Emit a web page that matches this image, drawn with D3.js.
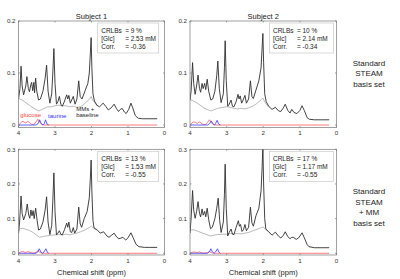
<!DOCTYPE html>
<html>
<head>
<meta charset="utf-8">
<script src="https://cdn.jsdelivr.net/npm/d3@7"></script>
<style>
  html, body { margin: 0; padding: 0; background: #fff; }
  svg { display: block; font-family: "Liberation Sans", Arial, sans-serif; }
</style>
</head>
<body>
<svg id="chart" width="400" height="279"></svg>
<script>
// ppm ticks, y ticks
const xTicks = [4, 3, 2, 1, 0];
const yTicksTop = [0, 0.1, 0.2];
const yTicksBottom = [0, 0.1, 0.2, 0.3];
const subjects = ["Subject 1", "Subject 2"];
const rowLabels = [["Standard", "STEAM", "basis set"], ["Standard", "STEAM", "+ MM", "basis set"]];

// [ppm, amplitude]
const spec1 = [[4.00,0.050],[3.96,0.070],[3.93,0.113],[3.90,0.075],[3.86,0.058],[3.80,0.075],[3.77,0.093],[3.73,0.070],[3.70,0.064],[3.66,0.078],[3.64,0.082],[3.61,0.066],[3.58,0.082],[3.56,0.062],[3.53,0.090],[3.50,0.065],[3.45,0.048],[3.40,0.050],[3.33,0.065],[3.27,0.090],[3.23,0.115],[3.19,0.065],[3.14,0.042],[3.09,0.060],[3.06,0.100],[3.03,0.147],[3.00,0.080],[2.96,0.040],[2.92,0.045],[2.88,0.055],[2.84,0.040],[2.80,0.036],[2.75,0.044],[2.68,0.058],[2.65,0.050],[2.62,0.057],[2.58,0.042],[2.50,0.055],[2.45,0.040],[2.40,0.050],[2.35,0.085],[2.31,0.055],[2.26,0.050],[2.17,0.067],[2.10,0.080],[2.06,0.100],[2.03,0.140],[2.01,0.168],[1.99,0.110],[1.96,0.060],[1.92,0.046],[1.85,0.038],[1.78,0.035],[1.68,0.042],[1.60,0.035],[1.54,0.029],[1.46,0.033],[1.38,0.040],[1.32,0.032],[1.26,0.026],[1.21,0.030],[1.16,0.032],[1.10,0.025],[1.05,0.022],[0.98,0.030],[0.92,0.042],[0.87,0.033],[0.80,0.018],[0.72,0.013],[0.60,0.012],[0.40,0.012],[0.20,0.012]];
const base1 = [[4.00,0.051],[3.90,0.048],[3.80,0.043],[3.70,0.038],[3.60,0.033],[3.50,0.029],[3.45,0.027],[3.38,0.029],[3.30,0.032],[3.20,0.035],[3.10,0.035],[3.00,0.037],[2.90,0.038],[2.80,0.037],[2.70,0.037],[2.60,0.035],[2.50,0.036],[2.40,0.034],[2.30,0.035],[2.20,0.040],[2.12,0.046],[2.05,0.050],[2.01,0.055],[1.97,0.048],[1.92,0.044],[1.85,0.037]];
const glc1 = [[4.00,0.000],[3.95,0.003],[3.90,0.007],[3.85,0.006],[3.80,0.004],[3.75,0.007],[3.70,0.005],[3.64,0.001],[3.58,0.001],[3.52,0.006],[3.47,0.011],[3.42,0.006],[3.37,0.001],[3.32,0.000],[0.20,0.000]];
const tau1 = [[4.00,0.000],[3.52,0.000],[3.46,0.003],[3.42,0.010],[3.38,0.003],[3.33,0.000],[3.29,0.003],[3.26,0.010],[3.22,0.002],[3.17,0.000]];

const spec2 = [[4.00,0.048],[3.97,0.065],[3.93,0.120],[3.90,0.080],[3.86,0.059],[3.82,0.075],[3.78,0.096],[3.74,0.070],[3.71,0.063],[3.67,0.080],[3.64,0.070],[3.60,0.080],[3.57,0.068],[3.53,0.088],[3.49,0.065],[3.43,0.048],[3.38,0.050],[3.32,0.065],[3.27,0.095],[3.24,0.123],[3.20,0.070],[3.15,0.043],[3.09,0.060],[3.06,0.110],[3.04,0.162],[3.01,0.085],[2.97,0.036],[2.93,0.040],[2.88,0.048],[2.84,0.036],[2.80,0.035],[2.74,0.045],[2.69,0.059],[2.66,0.050],[2.63,0.056],[2.59,0.042],[2.55,0.048],[2.50,0.057],[2.46,0.042],[2.40,0.050],[2.35,0.085],[2.31,0.055],[2.27,0.051],[2.20,0.067],[2.12,0.085],[2.06,0.110],[2.03,0.150],[2.01,0.176],[1.99,0.120],[1.96,0.060],[1.92,0.045],[1.85,0.036],[1.76,0.030],[1.67,0.034],[1.58,0.027],[1.52,0.026],[1.45,0.033],[1.40,0.040],[1.33,0.028],[1.27,0.023],[1.22,0.030],[1.16,0.024],[1.08,0.022],[1.00,0.028],[0.94,0.037],[0.88,0.028],[0.80,0.014],[0.74,0.011],[0.60,0.010],[0.40,0.010],[0.20,0.010]];
const base2 = [[4.00,0.049],[3.90,0.046],[3.80,0.042],[3.70,0.037],[3.60,0.032],[3.50,0.029],[3.42,0.027],[3.35,0.029],[3.25,0.032],[3.10,0.034],[3.00,0.035],[2.90,0.034],[2.80,0.032],[2.70,0.031],[2.60,0.032],[2.50,0.031],[2.40,0.033],[2.30,0.036],[2.20,0.040],[2.10,0.046],[2.05,0.049],[2.01,0.052],[1.97,0.046],[1.92,0.040],[1.85,0.034]];
const glc2 = [[4.00,0.000],[3.95,0.004],[3.90,0.006],[3.85,0.005],[3.80,0.003],[3.75,0.006],[3.70,0.004],[3.64,0.001],[3.57,0.001],[3.52,0.005],[3.47,0.010],[3.42,0.005],[3.37,0.001],[3.32,0.000],[0.20,0.000]];
const tau2 = [[4.00,0.000],[3.52,0.000],[3.46,0.003],[3.42,0.008],[3.38,0.003],[3.33,0.000],[3.30,0.003],[3.26,0.009],[3.22,0.002],[3.17,0.000]];

const spec3 = [[4.00,0.057],[3.97,0.090],[3.93,0.165],[3.90,0.115],[3.86,0.096],[3.80,0.115],[3.76,0.142],[3.72,0.110],[3.69,0.101],[3.66,0.125],[3.63,0.108],[3.60,0.123],[3.57,0.100],[3.53,0.130],[3.49,0.095],[3.45,0.067],[3.40,0.070],[3.33,0.090],[3.27,0.125],[3.23,0.163],[3.19,0.090],[3.14,0.054],[3.09,0.080],[3.06,0.150],[3.03,0.232],[3.00,0.120],[2.96,0.053],[2.92,0.058],[2.88,0.065],[2.84,0.055],[2.80,0.053],[2.74,0.068],[2.68,0.087],[2.65,0.075],[2.62,0.090],[2.58,0.062],[2.54,0.060],[2.50,0.074],[2.46,0.058],[2.40,0.070],[2.35,0.133],[2.31,0.085],[2.27,0.075],[2.20,0.100],[2.12,0.120],[2.06,0.160],[2.03,0.220],[2.01,0.269],[1.99,0.180],[1.96,0.095],[1.93,0.073],[1.85,0.068],[1.76,0.058],[1.67,0.062],[1.58,0.050],[1.52,0.046],[1.45,0.052],[1.38,0.058],[1.31,0.047],[1.25,0.042],[1.19,0.044],[1.14,0.046],[1.06,0.038],[1.00,0.045],[0.92,0.059],[0.86,0.045],[0.78,0.026],[0.70,0.019],[0.55,0.017],[0.40,0.017],[0.20,0.017]];
const base3 = [[4.00,0.065],[3.95,0.071],[3.88,0.072],[3.80,0.069],[3.70,0.066],[3.60,0.060],[3.50,0.052],[3.42,0.046],[3.35,0.048],[3.25,0.050],[3.10,0.052],[3.00,0.053],[2.90,0.054],[2.80,0.053],[2.70,0.055],[2.60,0.053],[2.50,0.056],[2.40,0.058],[2.30,0.062],[2.20,0.066],[2.10,0.072],[2.05,0.075],[2.00,0.078],[1.95,0.073],[1.90,0.069],[1.85,0.067]];
const glc3 = [[4.00,0.000],[3.95,0.003],[3.90,0.005],[3.85,0.004],[3.80,0.002],[3.75,0.005],[3.70,0.003],[3.64,0.001],[3.57,0.000],[3.52,0.003],[3.47,0.007],[3.42,0.003],[3.37,0.000],[0.20,0.000]];
const tau3 = [[4.00,0.000],[3.52,0.000],[3.47,0.004],[3.43,0.013],[3.39,0.004],[3.34,0.000],[3.30,0.004],[3.25,0.013],[3.21,0.003],[3.17,0.000]];

const spec4 = [[4.00,0.058],[3.97,0.100],[3.93,0.181],[3.90,0.125],[3.86,0.101],[3.82,0.120],[3.78,0.149],[3.74,0.115],[3.71,0.105],[3.67,0.128],[3.64,0.110],[3.60,0.121],[3.57,0.105],[3.53,0.130],[3.49,0.097],[3.44,0.071],[3.39,0.075],[3.32,0.100],[3.27,0.130],[3.23,0.159],[3.19,0.095],[3.15,0.060],[3.09,0.090],[3.06,0.170],[3.04,0.257],[3.01,0.130],[2.97,0.050],[2.93,0.060],[2.88,0.070],[2.84,0.055],[2.80,0.054],[2.74,0.075],[2.68,0.094],[2.65,0.078],[2.62,0.083],[2.58,0.063],[2.54,0.068],[2.50,0.083],[2.46,0.065],[2.40,0.075],[2.35,0.133],[2.31,0.088],[2.27,0.078],[2.20,0.108],[2.12,0.130],[2.06,0.180],[2.03,0.250],[2.01,0.310],[1.99,0.200],[1.96,0.100],[1.93,0.070],[1.85,0.062],[1.76,0.052],[1.67,0.061],[1.58,0.049],[1.52,0.044],[1.45,0.052],[1.40,0.062],[1.33,0.048],[1.27,0.042],[1.22,0.046],[1.18,0.046],[1.10,0.040],[1.03,0.045],[0.94,0.059],[0.88,0.045],[0.80,0.025],[0.75,0.019],[0.60,0.016],[0.40,0.016],[0.20,0.016]];
const base4 = [[4.00,0.066],[3.95,0.068],[3.88,0.067],[3.80,0.064],[3.70,0.060],[3.60,0.056],[3.50,0.052],[3.44,0.050],[3.35,0.052],[3.25,0.054],[3.10,0.055],[3.00,0.055],[2.90,0.057],[2.80,0.056],[2.70,0.057],[2.60,0.056],[2.50,0.058],[2.40,0.060],[2.30,0.064],[2.20,0.068],[2.10,0.072],[2.05,0.074],[2.00,0.076],[1.95,0.070],[1.90,0.065],[1.85,0.062]];
const glc4 = [[4.00,0.000],[3.95,0.002],[3.90,0.004],[3.85,0.003],[3.80,0.002],[3.75,0.004],[3.70,0.002],[3.64,0.000],[3.52,0.002],[3.47,0.005],[3.42,0.002],[3.37,0.000],[0.20,0.000]];
const tau4 = [[4.00,0.000],[3.52,0.000],[3.47,0.004],[3.43,0.013],[3.39,0.004],[3.34,0.000],[3.30,0.004],[3.25,0.013],[3.21,0.003],[3.17,0.000]];

const crlbs = ["9 %", "10 %", "13 %", "17 %"];
const glcConc = ["2.53 mM", "2.14 mM", "1.53 mM", "1.17 mM"];
const corrs = ["-0.36", "-0.34", "-0.55", "-0.55"];

const panels = [
  { row: 0, col: 0, spec: spec1, base: base1, glc: glc1, tau: tau1 },
  { row: 0, col: 1, spec: spec2, base: base2, glc: glc2, tau: tau2 },
  { row: 1, col: 0, spec: spec3, base: base3, glc: glc3, tau: tau3 },
  { row: 1, col: 1, spec: spec4, base: base4, glc: glc4, tau: tau4 }
];

const colX = [[18.5, 164.5], [190, 336.5]];
const rowY = [[127.6, 21], [255, 149.3]];
const yTop = [0.2, 0.3];
const axisColor = "#777";
const textColor = "#333";

const svg = d3.select("#chart");
const defs = svg.append("defs");

panels.forEach((p, i) => {
  const x = d3.scaleLinear().domain([4, 0]).range(colX[p.col]);
  const y = d3.scaleLinear().domain([-0.005, yTop[p.row]]).range(rowY[p.row]);
  const [x0, x1] = x.range();
  const [y1, y0] = y.range();
  const g = svg.append("g");

  defs.append("clipPath").attr("id", "clip" + i)
    .append("rect").attr("x", x0).attr("y", y0).attr("width", x1 - x0).attr("height", y1 - y0);

  const line = d3.line().x(d => x(d[0])).y(d => y(d[1]));
  const plot = g.append("g").attr("clip-path", `url(#clip${i})`);

  plot.append("path").datum(p.base).attr("d", line)
    .attr("fill", "none").attr("stroke", "#a8a8a8").attr("stroke-width", 0.8);
  plot.append("path").datum(p.spec).attr("d", line)
    .attr("fill", "none").attr("stroke", "#2e2e2e").attr("stroke-width", 0.9)
    .attr("stroke-linejoin", "round");
  plot.append("path").datum(p.glc).attr("d", line)
    .attr("fill", "none").attr("stroke", "#ff5a5a").attr("stroke-width", 0.8);
  plot.append("path").datum(p.tau).attr("d", line)
    .attr("fill", "none").attr("stroke", "#3a3aff").attr("stroke-width", 0.8);

  // frame + ticks (inward, all four sides)
  const yTicks = p.row === 0 ? yTicksTop : yTicksBottom;
  g.append("rect").attr("x", x0).attr("y", y0).attr("width", x1 - x0).attr("height", y1 - y0)
    .attr("fill", "none").attr("stroke", axisColor).attr("stroke-width", 0.7);
  xTicks.forEach(t => {
    g.append("line").attr("x1", x(t)).attr("x2", x(t)).attr("y1", y1).attr("y2", y1 - 1.5)
      .attr("stroke", axisColor).attr("stroke-width", 0.7);
    g.append("line").attr("x1", x(t)).attr("x2", x(t)).attr("y1", y0).attr("y2", y0 + 1.5)
      .attr("stroke", axisColor).attr("stroke-width", 0.7);
    g.append("text").attr("x", x(t)).attr("y", y1 + 7.5)
      .attr("text-anchor", "middle").attr("font-size", 6.2).attr("fill", textColor).text(t);
  });
  yTicks.forEach(t => {
    g.append("line").attr("x1", x0).attr("x2", x0 + 1.5).attr("y1", y(t)).attr("y2", y(t))
      .attr("stroke", axisColor).attr("stroke-width", 0.7);
    g.append("line").attr("x1", x1).attr("x2", x1 - 1.5).attr("y1", y(t)).attr("y2", y(t))
      .attr("stroke", axisColor).attr("stroke-width", 0.7);
    g.append("text").attr("x", x0 - 3).attr("y", y(t) + 2.2)
      .attr("text-anchor", "end").attr("font-size", 6.2).attr("fill", textColor).text(t);
  });

  // stats box
  const lx = x(1.83);
  const ly = y0 + 2;
  const bw = p.col === 0 ? 61 : 64;
  g.append("rect").attr("x", lx).attr("y", ly).attr("width", bw).attr("height", 30)
    .attr("fill", "#fff").attr("stroke", "#c8c8c8").attr("stroke-width", 0.7);
  const rows = [["CRLBs", crlbs[i]], ["[Glc]", glcConc[i]], ["Corr.", corrs[i]]];
  rows.forEach((r, k) => {
    const ty = ly + 9.5 + k * 8;
    g.append("text").attr("x", lx + 3.5).attr("y", ty).attr("font-size", 6.5).attr("fill", "#222").text(r[0]);
    g.append("text").attr("x", lx + 27.5).attr("y", ty).attr("font-size", 6.5).attr("fill", "#222").text("=");
    g.append("text").attr("x", lx + 33).attr("y", ty).attr("font-size", 6.5).attr("fill", "#222").text(r[1]);
  });

  if (p.row === 0) {
    g.append("text").attr("x", (x0 + x1) / 2).attr("y", y0 - 2.5)
      .attr("text-anchor", "middle").attr("font-size", 7.5).attr("fill", "#222").text(subjects[p.col]);
  } else {
    g.append("text").attr("x", (x0 + x1) / 2).attr("y", y1 + 19.5)
      .attr("text-anchor", "middle").attr("font-size", 7.5).attr("fill", "#222").text("Chemical shift (ppm)");
  }

  if (i === 0) {
    g.append("text").attr("x", x(3.95)).attr("y", y(0.016)).attr("font-size", 6)
      .attr("fill", "#ff4040").text("glucose");
    g.append("text").attr("x", x(3.19)).attr("y", y(0.014)).attr("font-size", 6)
      .attr("fill", "#3030ff").text("taurine");
    g.append("text").attr("x", x(2.42)).attr("y", y(0.026)).attr("font-size", 6)
      .attr("fill", "#222").text("MMs +");
    g.append("text").attr("x", x(2.42)).attr("y", y(0.015)).attr("font-size", 6)
      .attr("fill", "#222").text("baseline");
  }
});

// row labels on the right
const rowCenters = [73, 207];
rowLabels.forEach((lines, r) => {
  const lh = 10.5;
  const start = rowCenters[r] - (lines.length - 1) * lh / 2;
  lines.forEach((s, k) => {
    svg.append("text").attr("x", 369).attr("y", start + k * lh + 3)
      .attr("text-anchor", "middle").attr("font-size", 8).attr("fill", "#222").text(s);
  });
});
</script>
</body>
</html>
